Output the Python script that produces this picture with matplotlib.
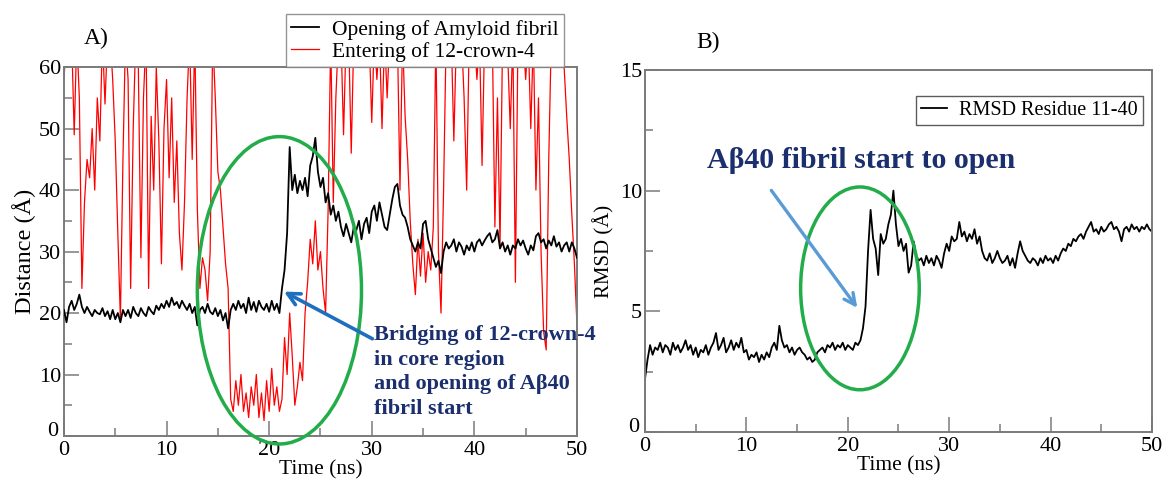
import numpy as np
import matplotlib
matplotlib.use("Agg")
from matplotlib import pyplot as plt
from matplotlib.patches import Ellipse
from matplotlib.transforms import ScaledTranslation

plt.rcParams['font.family'] = ['Liberation Serif', 'DejaVu Serif']

# -------------------------------
# Data (0.25 ns step)
# -------------------------------
time = np.arange(0, 50.001, 0.25)

# A) opening of amyloid fibril (distance, Angstrom)
dist_open = [
    20.5, 18.5, 21.0, 22.0, 20.5, 21.5, 23.0, 21.0, 20.0, 21.0, 20.2, 19.5, 20.5, 20.0, 19.8, 20.8, 19.5, 20.3, 19.0, 20.5,
    19.0, 20.0, 18.5, 20.5, 19.5, 20.5, 19.2, 21.0, 20.0, 19.5, 20.8, 20.0, 19.5, 21.0, 20.3, 19.8, 21.2, 20.5, 21.5, 20.8,
    22.0, 21.0, 22.5, 21.3, 21.8, 20.8, 22.0, 21.2, 20.5, 21.5, 20.0, 21.0, 18.0, 20.5, 21.0, 20.0, 21.5, 20.2, 19.8, 20.8,
    19.5, 20.5, 18.8, 20.0, 17.5, 20.5, 21.5, 20.5, 22.0, 20.8, 21.5, 20.0, 22.5, 20.5, 21.8, 20.2, 22.0, 21.0, 20.5, 21.5,
    20.2, 22.0, 20.5, 21.5, 20.0, 24.0, 27.0, 33.0, 47.0, 40.0, 42.5, 39.5, 41.5, 40.0, 42.0, 39.0, 44.0, 45.5, 48.5, 43.0,
    40.5, 42.0, 38.0, 39.5, 36.0, 37.5, 35.0, 36.5, 34.0, 32.5, 34.5, 33.0, 31.5, 34.0, 33.5, 35.0, 32.0, 34.5, 35.5, 33.0,
    36.5, 37.5, 35.0, 38.0, 36.0, 34.0, 33.5, 36.0, 38.5, 40.5, 41.0, 37.5, 36.0, 35.5, 34.0, 32.0, 31.0, 30.0, 31.5, 30.5,
    34.5, 35.0, 32.0, 30.5, 29.0, 27.5, 28.5, 26.5, 30.0, 31.5, 30.5, 31.0, 32.0, 30.0, 31.5, 30.8, 29.5, 31.0, 30.2, 31.5,
    30.0, 31.5, 32.0, 31.0, 31.8, 32.5, 33.0, 31.5, 32.0, 33.5, 30.5, 31.5, 30.0, 31.0, 29.5, 31.0, 30.5, 32.0, 31.0, 31.8,
    30.5, 29.5, 31.0, 30.2, 32.5, 33.0, 31.5, 32.0, 30.5, 31.8, 31.0, 32.5, 30.8, 31.5, 30.0, 31.0, 31.5, 30.0, 31.5, 30.5,
    29.0]

# A) entering of 12-crown-4 (values above 60 are off the top of the plot)
dist_crown = [
    58, 65, 65, 65, 49, 65, 55, 24, 38, 45, 42, 50, 40, 55, 48, 65, 54, 65, 65, 58,
    48, 33, 19, 45, 65, 58, 24, 50, 65, 60, 29, 55, 65, 24, 52, 40, 60, 48, 28, 50,
    58, 42, 55, 38, 48, 33, 27, 38, 55, 65, 45, 65, 37, 24, 29, 27, 22, 30, 65, 55,
    43, 40, 34, 28, 24, 6, 4, 9, 5, 10, 4, 7, 3, 8, 5, 10, 3, 7, 2.5, 9,
    4, 11, 5, 8, 4, 6, 16, 10, 20, 13, 5, 8, 12, 9, 20, 25, 32, 28, 35, 27,
    30, 24, 20, 37, 65, 38, 55, 65, 65, 49, 65, 65, 46, 65, 65, 65, 65, 65, 65, 65,
    51, 65, 58, 65, 50, 65, 55, 65, 65, 60, 65, 40, 65, 52, 45, 35, 28, 23, 32, 26,
    33, 25, 30, 27, 34, 65, 30, 20, 40, 65, 65, 65, 48, 65, 65, 65, 55, 40, 65, 65,
    65, 58, 65, 44, 65, 65, 60, 65, 34, 55, 31, 65, 65, 62, 50, 65, 25, 65, 65, 65,
    58, 65, 50, 65, 40, 55, 30, 17, 14, 45, 65, 65, 65, 65, 65, 60, 52, 45, 36, 28,
    18]

# B) RMSD residue 11-40 (Angstrom)
rmsd = [
    2.2, 3.0, 3.6, 3.2, 3.5, 3.4, 3.7, 3.3, 3.6, 3.5, 3.2, 3.7, 3.4, 3.6, 3.3, 3.5, 3.8, 3.4, 3.6, 3.2,
    3.5, 3.1, 3.4, 3.3, 3.6, 3.2, 3.5, 3.7, 4.1, 3.4, 3.6, 3.9, 3.3, 3.5, 3.8, 3.4, 3.7, 3.5, 3.9, 3.3,
    3.4, 3.0, 3.2, 3.1, 3.3, 2.9, 3.2, 3.0, 3.3, 3.1, 3.5, 3.7, 3.4, 4.4, 3.8, 3.5, 3.6, 3.3, 3.5, 3.2,
    3.4, 3.5, 3.3, 3.2, 3.0, 3.1, 2.9, 3.0, 3.3, 3.4, 3.5, 3.3, 3.6, 3.5, 3.7, 3.4, 3.6, 3.5, 3.7, 3.4,
    3.6, 3.5, 3.4, 3.7, 3.6, 3.8, 4.3, 5.2, 7.5, 9.2, 8.0, 7.6, 6.5, 8.2, 7.8, 8.0, 8.6, 9.0, 10.0, 8.6,
    7.7, 8.0, 7.5, 7.8, 6.6, 6.9, 7.9, 7.3, 7.1, 7.2, 6.9, 7.3, 7.0, 7.2, 6.9, 7.3, 7.1, 6.8, 7.4, 7.8,
    7.5, 8.1, 7.9, 8.0, 8.7, 8.1, 8.3, 7.9, 8.2, 8.0, 8.4, 7.8, 8.1, 7.5, 7.2, 7.1, 7.4, 7.0, 7.2, 7.5,
    7.2, 7.0, 7.1, 7.3, 6.9, 7.2, 6.8, 7.4, 7.9, 7.5, 7.3, 7.1, 7.0, 7.2, 7.1, 6.9, 7.2, 7.0, 7.3, 7.1,
    7.2, 7.0, 7.3, 7.1, 7.4, 7.6, 7.5, 7.8, 7.7, 8.0, 7.9, 8.1, 8.2, 8.0, 8.3, 8.5, 8.7, 8.3, 8.4, 8.2,
    8.5, 8.3, 8.4, 8.6, 8.7, 8.4, 8.5, 8.3, 7.9, 8.4, 8.5, 8.3, 8.6, 8.4, 8.5, 8.3, 8.5, 8.4, 8.6, 8.4,
    8.3]

green = '#22ac4a'
navy = '#1b2f6e'
spine_c = '#7a7a7a'

def style_axes(ax):
    for s in ax.spines.values():
        s.set_color(spine_c)
        s.set_linewidth(1.4)
    ax.tick_params(which='both', direction='in', top=False, right=False,
                   labelsize=16, colors=spine_c, labelcolor='black')
    ax.tick_params(which='major', length=11, width=1.1, pad=2)
    ax.tick_params(axis='x', which='major', pad=3.5)
    ax.tick_params(which='minor', length=6, width=1.1)
    ax.set_xlim(0, 50)
    ax.set_xticks(np.arange(0, 51, 10))
    ax.set_xticks(np.arange(0, 51, 5), minor=True)
    ax.set_xlabel('Time (ns)', fontsize=15.5, labelpad=0)

def nudge_zero(ax):
    # the y "0" sits a little up-left of the x "0", as in the original
    fig.canvas.draw()
    lab = ax.get_yticklabels()[0]
    lab.set_transform(lab.get_transform() + ScaledTranslation(-2/72, 5/72, fig.dpi_scale_trans))

fig = plt.figure(figsize=(11.67, 4.79), dpi=100)

# -------------------------------
# Panel A
# -------------------------------
ax1 = fig.add_axes([0.0548, 0.0898, 0.4396, 0.770])
ax1.plot(time, dist_open, color='black', lw=1.3, label='Opening of Amyloid fibril', zorder=3)
ax1.plot(time, dist_crown, color='red', lw=0.9, label='Entering of 12-crown-4', zorder=2)
style_axes(ax1)
ax1.set_ylim(0, 60)
ax1.set_yticks(np.arange(0, 61, 10))
ax1.set_yticks(np.arange(0, 61, 5), minor=True)
ax1.set_ylabel('Distance (Å)', fontsize=17.5, labelpad=2)

ax1.add_patch(Ellipse((21.0, 23.7), 16.0, 50.0, fill=False, edgecolor=green,
                      lw=2.5, clip_on=False, zorder=4))
ax1.annotate('', xy=(21.2, 23.7), xytext=(30.3, 15.6),
             arrowprops=dict(arrowstyle='->', color='#1f6fbf', lw=2.6,
                             mutation_scale=22), zorder=5)
ax1.text(30.2, 18.0, 'Bridging of 12-crown-4\nin core region\nand opening of Aβ40\nfibril start',
         color=navy, fontsize=16, fontweight='bold', va='top', ha='left',
         linespacing=1.3, zorder=6)

leg1 = ax1.legend(loc='lower right', bbox_to_anchor=(0.975, 1.0), borderaxespad=0,
                  fontsize=15.5, frameon=True, fancybox=False, handlelength=1.3,
                  handletextpad=0.6, labelspacing=0.1, borderpad=0.25)
leg1.get_frame().set_edgecolor(spine_c)
leg1.get_frame().set_linewidth(1.0)

fig.text(0.072, 0.92, 'A)', fontsize=17, ha='left', va='center')

# -------------------------------
# Panel B
# -------------------------------
ax2 = fig.add_axes([0.5527, 0.0981, 0.4344, 0.756])
ax2.plot(time, rmsd, color='black', lw=1.3, label='RMSD Residue 11-40')
style_axes(ax2)
ax2.set_ylim(0, 15)
ax2.set_yticks(np.arange(0, 16, 5))
ax2.set_yticks(np.arange(0, 15.1, 2.5), minor=True)
ax2.set_ylabel('RMSD (Å)', fontsize=15, labelpad=4)

ax2.add_patch(Ellipse((21.2, 5.95), 11.7, 8.4, fill=False, edgecolor=green,
                      lw=2.5, zorder=4))
ax2.annotate('', xy=(21.1, 5.05), xytext=(12.3, 10.1),
             arrowprops=dict(arrowstyle='->', color='#5b9bd5', lw=2.4,
                             mutation_scale=20), zorder=5)
ax2.text(6.1, 11.25, 'Aβ40 fibril start to open', color=navy, fontsize=21.5,
         fontweight='bold', va='center', ha='left')

leg2 = ax2.legend(loc='upper right', bbox_to_anchor=(0.982, 0.928), borderaxespad=0,
                  fontsize=14.5, frameon=True, fancybox=False, handlelength=1.3,
                  handletextpad=0.6, borderpad=0.25)
leg2.get_frame().set_edgecolor('#333333')
leg2.get_frame().set_linewidth(1.0)

fig.text(0.597, 0.912, 'B)', fontsize=17, ha='left', va='center')

nudge_zero(ax1)
nudge_zero(ax2)

fig.savefig('out.png', dpi=100)
